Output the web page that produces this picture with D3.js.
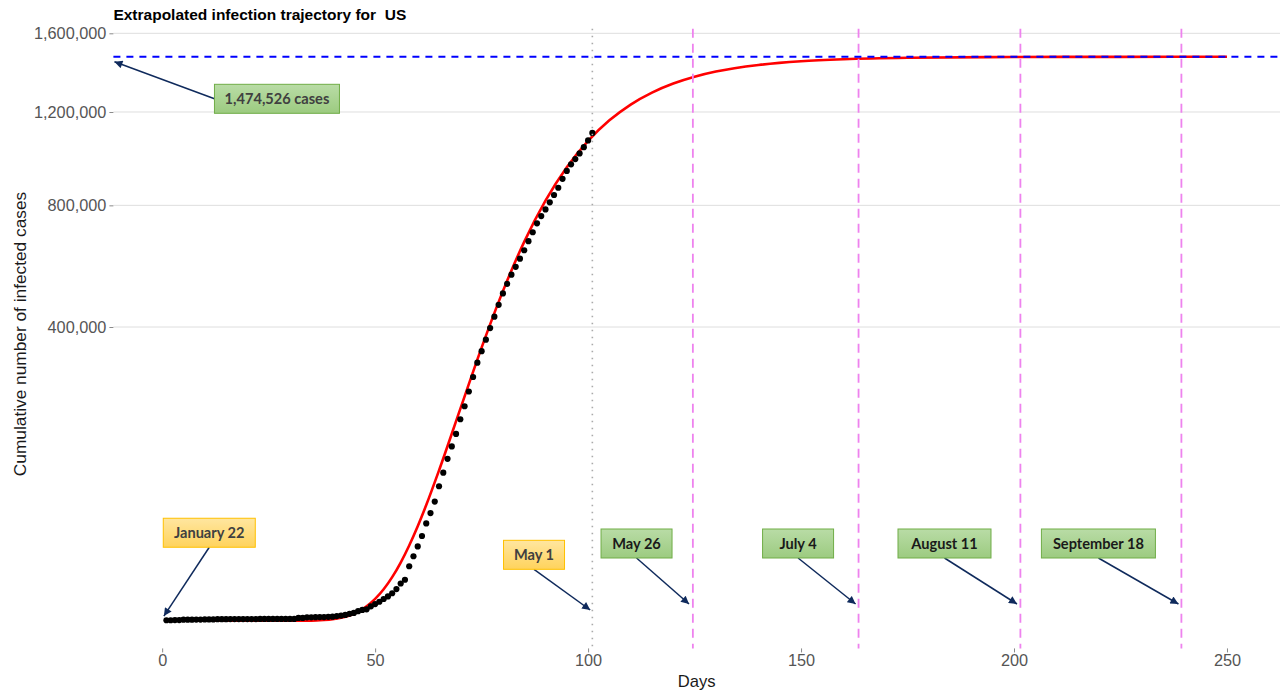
<!DOCTYPE html>
<html>
<head>
<meta charset="utf-8">
<script src="https://cdn.jsdelivr.net/npm/d3@7"></script>
<style>
  body { margin: 0; background: #fff; }
  svg { display: block; }
</style>
</head>
<body>
<svg id="chart" width="1280" height="692"></svg>
<script>
// observed cumulative cases, day 1 = January 22
var obsDays = d3.range(1, 102);
var obsCases = [
  1, 1, 2, 2, 5, 5, 5, 6, 6, 8,
  8, 8, 11, 11, 11, 12, 12, 12, 12, 12,
  13, 13, 14, 14, 14, 14, 14, 14, 14, 14,
  15, 35, 35, 53, 53, 59, 60, 62, 70, 76,
  101, 122, 153, 221, 278, 417, 537, 605, 959, 1281,
  1663, 2179, 2726, 3499, 4632, 6421, 7783, 13747, 19273, 25600,
  33276, 43843, 53736, 65778, 83836, 101657, 121465, 140909, 161831, 188172,
  213242, 243622, 275367, 308650, 336802, 366317, 397121, 428654, 462780, 496535,
  526396, 555313, 580619, 607670, 636350, 667801, 699706, 732197, 759086, 784326,
  811865, 840351, 869170, 905358, 938154, 965785, 988197, 1012582, 1039909, 1069424,
  1103461
];

// fitted trajectory
var fitDays = [1, 5, 10, 15, 20, 25, 30, 35, 38, 40, 42, 44, 46, 48, 50, 52, 54, 56, 58, 60,
  62, 65, 70, 75, 80, 85, 90, 95, 100, 105, 110, 115, 120, 125, 130, 140, 150, 160, 175, 200, 225, 250];
var fitCases = [0, 0, 0, 0, 0, 0, 0, 0, 2, 10, 39, 130, 373, 952, 2200, 4580, 8790, 15690, 26230, 41400,
  62000, 104700, 208100, 345900, 503700, 665600, 818200, 953400, 1067600, 1160900, 1235400, 1293300,
  1338100, 1372200, 1398200, 1432000, 1451100, 1461600, 1469300, 1473400, 1474300, 1474500];

var finalSize = 1474526;
var lastDataDay = 101;
var milestoneDays = [124.6, 163.5, 201.5, 239.3];

var xTicks = [0, 50, 100, 150, 200, 250];
var yTicks = [400000, 800000, 1200000, 1600000];

// annotation boxes: arrow tip in data units, box centre offset in px
var notes = [
  { label: "1,474,526 cases", day: -11.2, value: 1449000, dx: 162.5, dy: 37.1, w: 125, kind: "green", from: "left", ink: "#404040" },
  { label: "January 22", day: 0.4, value: 100, dx: 45.4, dy: -83.3, w: 92, kind: "orange", from: "bottom", ink: "#404040" },
  { label: "May 1", day: 100.5, value: 530, dx: -56.2, dy: -55.2, w: 61, kind: "orange", from: "bottom", ink: "#404040" },
  { label: "May 26", day: 123.7, value: 1293, dx: -52.5, dy: -60.5, w: 71, kind: "green", from: "bottom", ink: "#1a1a1a" },
  { label: "July 4", day: 162.8, value: 1293, dx: -57.5, dy: -60.5, w: 71, kind: "green", from: "bottom", ink: "#1a1a1a" },
  { label: "August 11", day: 200.7, value: 1293, dx: -72.5, dy: -60.5, w: 93, kind: "green", from: "bottom", ink: "#1a1a1a" },
  { label: "September 18", day: 238.6, value: 1293, dx: -80, dy: -60.5, w: 114, kind: "green", from: "bottom", ink: "#1a1a1a" }
];

var svg = d3.select("#chart");

var x = d3.scaleLinear().domain([-11.45, 262.45]).range([113.4, 1280]);
var y = d3.scaleSqrt().domain([0, 1600000]).range([620.7, 33.3]);

// panel extent in sqrt space (5% padding like ggplot)
var sLo = Math.sqrt(1), sHi = Math.sqrt(finalSize), pad = 0.05 * (sHi - sLo);
var kPx = (620.7 - 33.3) / Math.sqrt(1600000);
var panelTop = 620.7 - kPx * (sHi + pad);
var panelBottom = 620.7 - kPx * (sLo - pad);
var panelLeft = x.range()[0], panelRight = x.range()[1];

var defs = svg.append("defs");
function grad(id, top, bottom) {
  var g = defs.append("linearGradient").attr("id", id)
    .attr("x1", 0).attr("y1", 0).attr("x2", 0).attr("y2", 1);
  g.append("stop").attr("offset", "0%").attr("stop-color", top);
  g.append("stop").attr("offset", "100%").attr("stop-color", bottom);
}
grad("gGreen", "#b9dca6", "#9ccb80");
grad("gOrange", "#ffe6a0", "#ffd35c");

defs.append("marker")
  .attr("id", "arrow")
  .attr("viewBox", "0 0 10 10")
  .attr("refX", 10).attr("refY", 5)
  .attr("markerUnits", "userSpaceOnUse")
  .attr("markerWidth", 9).attr("markerHeight", 8)
  .attr("orient", "auto")
  .append("path")
  .attr("d", "M0,0 L10,5 L0,10 z")
  .attr("fill", "#0f2a5c");

// horizontal grid
svg.append("g")
  .selectAll("line")
  .data(yTicks)
  .enter()
  .append("line")
  .attr("x1", panelLeft).attr("x2", panelRight)
  .attr("y1", function (d) { return y(d); })
  .attr("y2", function (d) { return y(d); })
  .style("stroke", "#dedede")
  .style("stroke-width", 1);

// y axis
var yAxis = svg.append("g")
  .attr("transform", "translate(" + panelLeft + ",0)")
  .call(d3.axisLeft(y).tickValues(yTicks).tickSize(4).tickPadding(3).tickFormat(d3.format(",")));
yAxis.select(".domain").remove();
yAxis.selectAll(".tick line").style("stroke", "#8a8a8a");
yAxis.selectAll(".tick text")
  .style("font-family", "'Liberation Sans', Arial, sans-serif")
  .style("font-size", "16.3px")
  .style("fill", "#555");

// x axis
var xAxis = svg.append("g")
  .attr("transform", "translate(0," + panelBottom + ")")
  .call(d3.axisBottom(x).tickValues(xTicks).tickSize(4).tickPadding(2));
xAxis.select(".domain").remove();
xAxis.selectAll(".tick line").style("stroke", "#8a8a8a");
xAxis.selectAll(".tick text")
  .style("font-family", "'Liberation Sans', Arial, sans-serif")
  .style("font-size", "16.3px")
  .style("fill", "#555");

// fitted curve
var line = d3.line()
  .x(function (d, i) { return x(fitDays[i]); })
  .y(function (d) { return y(d); })
  .curve(d3.curveMonotoneX);
svg.append("path")
  .datum(fitCases)
  .attr("d", line)
  .style("fill", "none")
  .style("stroke", "#ff0000")
  .style("stroke-width", 2.6);

// observed points
svg.append("g")
  .selectAll("circle")
  .data(obsCases)
  .enter()
  .append("circle")
  .attr("cx", function (d, i) { return x(obsDays[i]); })
  .attr("cy", function (d) { return y(d); })
  .attr("r", 3.1)
  .style("fill", "#000");

// milestone lines
svg.append("g")
  .selectAll("line")
  .data(milestoneDays)
  .enter()
  .append("line")
  .attr("x1", function (d) { return x(d); })
  .attr("x2", function (d) { return x(d); })
  .attr("y1", panelTop).attr("y2", panelBottom)
  .style("stroke", "#ee82ee")
  .style("stroke-width", 1.8)
  .style("stroke-dasharray", "9,6");

// last observed day
svg.append("line")
  .attr("x1", x(lastDataDay)).attr("x2", x(lastDataDay))
  .attr("y1", panelTop).attr("y2", panelBottom)
  .style("stroke", "#aaa")
  .style("stroke-width", 1.6)
  .style("stroke-dasharray", "1.5,5.5");

// final size
svg.append("line")
  .attr("x1", panelLeft).attr("x2", panelRight)
  .attr("y1", y(finalSize)).attr("y2", y(finalSize))
  .style("stroke", "#0000ff")
  .style("stroke-width", 2)
  .style("stroke-dasharray", "7,6");

// annotations
var boxH = 29;
var note = svg.append("g")
  .selectAll("g")
  .data(notes)
  .enter()
  .append("g");

note.append("line")
  .attr("x1", function (d) {
    var cx = x(d.day) + d.dx;
    return d.from === "left" ? cx - d.w / 2 : cx;
  })
  .attr("y1", function (d) {
    var cy = y(d.value) + d.dy;
    return d.from === "left" ? cy : cy + boxH / 2;
  })
  .attr("x2", function (d) { return x(d.day); })
  .attr("y2", function (d) { return y(d.value); })
  .style("stroke", "#0f2a5c")
  .style("stroke-width", 1.5)
  .attr("marker-end", "url(#arrow)");

note.append("rect")
  .attr("x", function (d) { return x(d.day) + d.dx - d.w / 2; })
  .attr("y", function (d) { return y(d.value) + d.dy - boxH / 2; })
  .attr("width", function (d) { return d.w; })
  .attr("height", boxH)
  .style("fill", function (d) { return d.kind === "green" ? "url(#gGreen)" : "url(#gOrange)"; })
  .style("stroke", function (d) { return d.kind === "green" ? "#70ad47" : "#ffc000"; })
  .style("stroke-width", 1);

note.append("text")
  .attr("x", function (d) { return x(d.day) + d.dx; })
  .attr("y", function (d) { return y(d.value) + d.dy; })
  .attr("dy", "0.36em")
  .attr("text-anchor", "middle")
  .text(function (d) { return d.label; })
  .style("font-family", "Lato, 'Open Sans', sans-serif")
  .style("font-weight", "bold")
  .style("font-size", "14.6px")
  .style("fill", function (d) { return d.ink; });

// titles
svg.append("text")
  .attr("x", 113.4).attr("y", 20)
  .text("Extrapolated infection trajectory for  US")
  .style("font-family", "'Liberation Sans', Arial, sans-serif")
  .style("font-weight", "bold")
  .style("font-size", "15.5px")
  .style("white-space", "pre")
  .attr("xml:space", "preserve")
  .style("fill", "#000");

svg.append("text")
  .attr("transform", "translate(26,334) rotate(-90)")
  .attr("text-anchor", "middle")
  .text("Cumulative number of infected cases")
  .style("font-family", "'Liberation Sans', Arial, sans-serif")
  .style("font-size", "17.3px")
  .style("fill", "#1a1a1a");

svg.append("text")
  .attr("x", (panelLeft + panelRight) / 2).attr("y", 687)
  .attr("text-anchor", "middle")
  .text("Days")
  .style("font-family", "'Liberation Sans', Arial, sans-serif")
  .style("font-size", "16.6px")
  .style("fill", "#1a1a1a");
</script>
</body>
</html>
